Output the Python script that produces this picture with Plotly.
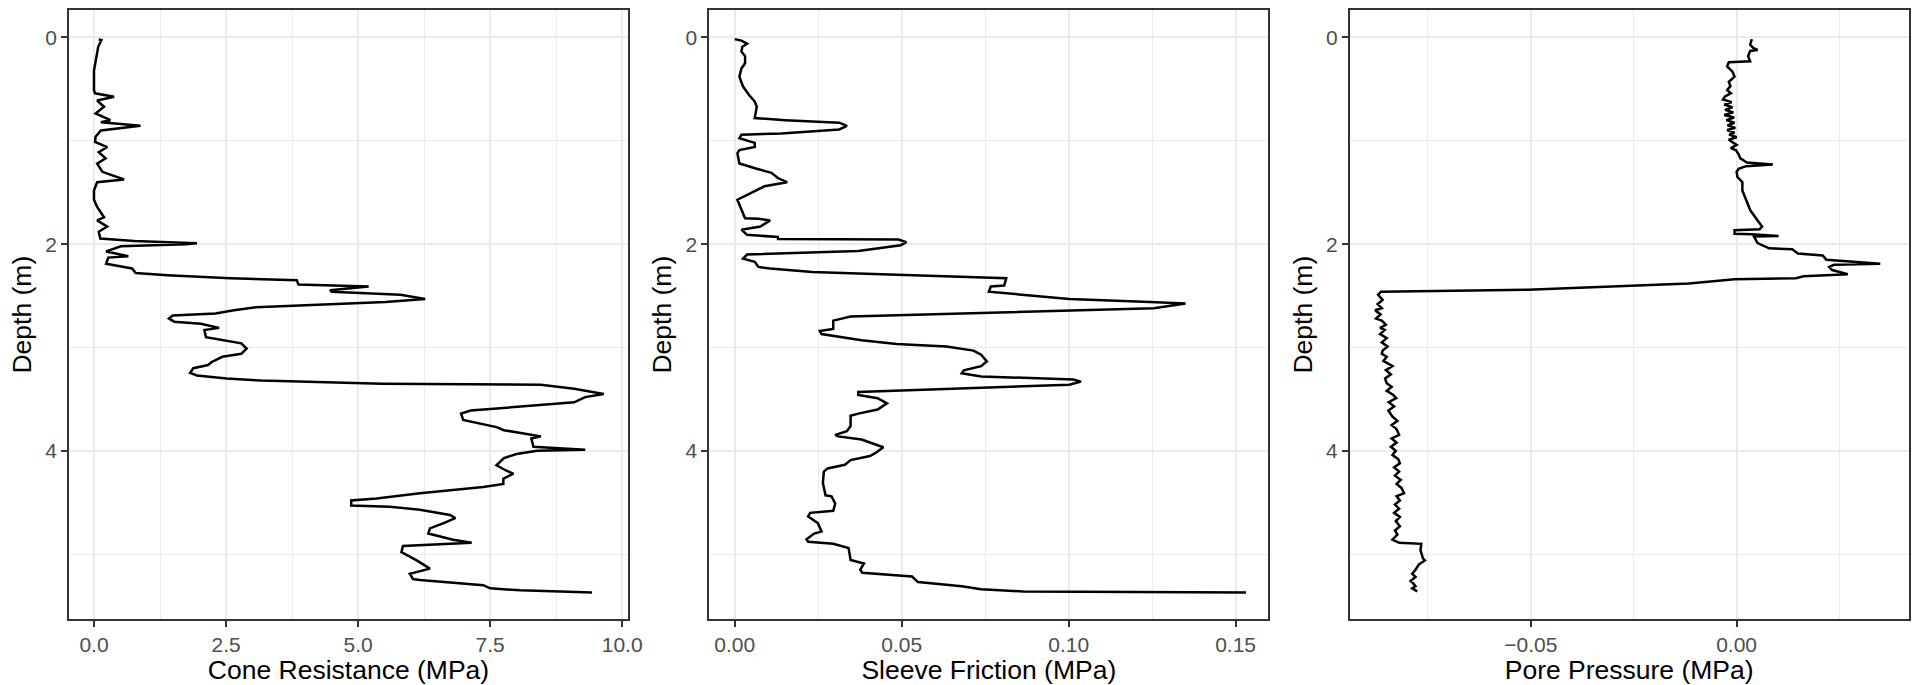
import plotly.graph_objects as go

# cone resistance profile (MPa) vs depth (m)
cone_depth = [
    0.02, 0.026, 0.09, 0.22, 0.32, 0.51, 0.54, 0.574, 0.61, 0.67,
    0.735, 0.80, 0.82, 0.855, 0.90, 0.96, 1.01, 1.06, 1.11, 1.17,
    1.22, 1.30, 1.374, 1.40, 1.48, 1.57, 1.64, 1.74, 1.77, 1.83,
    1.88, 1.945, 1.97, 1.99, 2.00, 2.02, 2.07, 2.116, 2.13, 2.19,
    2.235, 2.28, 2.30, 2.33, 2.35, 2.39, 2.40, 2.41, 2.445, 2.46,
    2.49, 2.53, 2.56, 2.59, 2.61, 2.64, 2.67, 2.69, 2.72, 2.75,
    2.77, 2.81, 2.83, 2.90, 2.93, 2.96, 3.01, 3.06, 3.09, 3.14,
    3.17, 3.20, 3.245, 3.27, 3.30, 3.32, 3.35, 3.36, 3.40, 3.45,
    3.48, 3.53, 3.61, 3.64, 3.70, 3.77, 3.80, 3.85, 3.86, 3.88,
    3.96, 3.99, 4.00, 4.03, 4.07, 4.14, 4.19, 4.22, 4.27, 4.32,
    4.35, 4.41, 4.46, 4.48, 4.53, 4.54, 4.57, 4.62, 4.65, 4.70,
    4.75, 4.80, 4.86, 4.89, 4.90, 4.92, 4.98, 5.06, 5.14, 5.17,
    5.19, 5.24, 5.25, 5.30, 5.33, 5.35, 5.37,
]
cone_qc = [
    0.09, 0.14, 0.08, 0.03, 0.00, 0.00, 0.02, 0.38, 0.06, 0.19,
    0.03, 0.31, 0.13, 0.88, 0.13, 0.03, 0.02, 0.25, 0.09, 0.22,
    0.06, 0.16, 0.57, 0.06, 0.00, 0.00, 0.06, 0.19, 0.06, 0.25,
    0.09, 0.12, 0.76, 1.95, 1.74, 0.51, 0.23, 0.65, 0.27, 0.23,
    0.72, 0.79, 1.39, 2.58, 3.84, 3.87, 4.47, 5.20, 4.47, 4.50,
    5.80, 6.27, 5.52, 4.12, 3.07, 2.65, 2.30, 1.49, 1.42, 1.52,
    2.02, 2.37, 2.09, 2.12, 2.43, 2.79, 2.89, 2.79, 2.43, 2.23,
    2.16, 1.88, 1.82, 1.95, 2.51, 3.17, 5.45, 8.46, 9.09, 9.65,
    9.30, 9.09, 7.13, 6.95, 6.99, 7.62, 7.76, 8.32, 8.46, 8.28,
    8.32, 9.30, 8.39, 8.00, 7.76, 7.62, 7.80, 7.94, 7.75, 7.75,
    7.37, 6.17, 5.35, 4.87, 4.87, 5.60, 6.17, 6.74, 6.84, 6.62,
    6.36, 6.33, 6.80, 7.15, 6.80, 5.85, 5.82, 6.11, 6.36, 6.11,
    5.98, 6.04, 6.17, 7.37, 7.50, 8.07, 9.43,
]

# sleeve friction profile (MPa)
sleeve_depth = [
    0.016, 0.03, 0.06, 0.09, 0.136, 0.18, 0.25, 0.30, 0.38, 0.475,
    0.556, 0.62, 0.67, 0.78, 0.80, 0.824, 0.856, 0.89, 0.93, 0.94,
    0.975, 1.02, 1.06, 1.09, 1.12, 1.22, 1.27, 1.31, 1.36, 1.40,
    1.44, 1.57, 1.75, 1.755, 1.77, 1.83, 1.86, 1.91, 1.93, 1.95,
    1.955, 1.98, 2.01, 2.065, 2.10, 2.14, 2.17, 2.22, 2.236, 2.27,
    2.29, 2.31, 2.33, 2.40, 2.41, 2.46, 2.49, 2.53, 2.56, 2.575,
    2.62, 2.64, 2.67, 2.70, 2.74, 2.82, 2.84, 2.87, 2.93, 2.965,
    2.99, 3.03, 3.07, 3.135, 3.18, 3.22, 3.25, 3.28, 3.31, 3.33,
    3.36, 3.41, 3.43, 3.46, 3.49, 3.54, 3.60, 3.64, 3.66, 3.76,
    3.81, 3.845, 3.86, 3.89, 3.94, 3.965, 4.02, 4.05, 4.09, 4.135,
    4.17, 4.20, 4.31, 4.43, 4.44, 4.51, 4.58, 4.60, 4.635, 4.70,
    4.78, 4.80, 4.855, 4.88, 4.90, 4.94, 5.055, 5.09, 5.15, 5.18,
    5.216, 5.27, 5.31, 5.34, 5.36, 5.37,
]
sleeve_fs = [
    0.0, 0.002, 0.0037, 0.0023, 0.002, 0.0031, 0.0031, 0.002, 0.0014, 0.0025,
    0.0043, 0.006, 0.0066, 0.006, 0.0152, 0.0313, 0.0336, 0.0313, 0.014, 0.002,
    0.0014, 0.006, 0.006, 0.0014, 0.0008, 0.0014, 0.0066, 0.011, 0.0129, 0.0157,
    0.0089, 0.0008, 0.0031, 0.0071, 0.0106, 0.0077, 0.002, 0.0037, 0.0129, 0.013,
    0.049, 0.0514, 0.0497, 0.037, 0.0037, 0.0025, 0.006, 0.0071, 0.0106, 0.0232,
    0.0439, 0.0652, 0.0813, 0.0807, 0.0767, 0.0761, 0.0864, 0.1002, 0.1244, 0.135,
    0.1255, 0.1037, 0.0634, 0.0347, 0.0295, 0.0295, 0.0255, 0.026, 0.038, 0.0485,
    0.0634, 0.0715, 0.0738, 0.0755, 0.0738, 0.0686, 0.068, 0.0738, 0.1014, 0.1037,
    0.1002, 0.0531, 0.037, 0.037, 0.0428, 0.0456, 0.0428, 0.037, 0.0347, 0.0347,
    0.0336, 0.0301, 0.031, 0.038, 0.0422, 0.0445, 0.0422, 0.0405, 0.0347, 0.033,
    0.0278, 0.0267, 0.0264, 0.0272, 0.029, 0.0301, 0.0295, 0.0226, 0.022, 0.0249,
    0.026, 0.0238, 0.0215, 0.022, 0.0295, 0.0341, 0.0347, 0.0387, 0.0376, 0.0382,
    0.0531, 0.0549, 0.068, 0.0738, 0.0864, 0.1531,
]

# pore pressure profile (MPa)
pore_depth = [
    0.016, 0.07, 0.10, 0.12, 0.13, 0.18, 0.23, 0.24, 0.28, 0.33,
    0.38, 0.43, 0.47, 0.51, 0.54, 0.57, 0.60, 0.625, 0.65, 0.675,
    0.70, 0.725, 0.75, 0.775, 0.80, 0.825, 0.85, 0.875, 0.895, 0.92,
    0.94, 0.965, 0.99, 1.04, 1.07, 1.09, 1.13, 1.17, 1.21, 1.23,
    1.245, 1.27, 1.30, 1.35, 1.40, 1.48, 1.57, 1.67, 1.77, 1.83,
    1.855, 1.865, 1.90, 1.905, 1.92, 1.925, 1.99, 2.04, 2.05, 2.09,
    2.11, 2.15, 2.19, 2.20, 2.22, 2.25, 2.29, 2.31, 2.33, 2.34,
    2.38, 2.41, 2.44, 2.46, 2.49, 2.54, 2.58, 2.62, 2.64, 2.68,
    2.72, 2.74, 2.78, 2.81, 2.83, 2.87, 2.91, 2.95, 2.99, 3.03,
    3.06, 3.09, 3.13, 3.18, 3.22, 3.26, 3.30, 3.345, 3.38, 3.42,
    3.46, 3.49, 3.53, 3.57, 3.61, 3.67, 3.71, 3.75, 3.79, 3.845,
    3.88, 3.92, 3.96, 4.00, 4.04, 4.08, 4.12, 4.16, 4.20, 4.24,
    4.28, 4.32, 4.36, 4.41, 4.44, 4.48, 4.52, 4.56, 4.60, 4.64,
    4.68, 4.73, 4.77, 4.81, 4.86, 4.89, 4.90, 4.96, 5.04, 5.06,
    5.10, 5.15, 5.19, 5.22, 5.26, 5.28, 5.31, 5.33, 5.36,
]
pore_u = [
    0.0037, 0.0033, 0.0040, 0.0051, 0.0033, 0.0028, 0.0033, -0.0019, -0.0023, -0.0010,
    -0.0005, -0.0019, -0.0015, -0.0023, -0.0014, -0.0028, -0.0033, -0.0012, -0.0030, -0.0010,
    -0.0028, -0.0008, -0.0030, -0.0006, -0.0025, -0.0005, -0.0022, -0.0003, -0.0023, -0.0005,
    -0.0018, 0.0000, -0.0019, 0.0000, -0.0014, -0.0002, 0.0005, 0.0009, 0.0025, 0.0088,
    0.0023, 0.0005, 0.0000, 0.0002, 0.0014, 0.0014, 0.0023, 0.0033, 0.0051, 0.0062,
    0.0056, -0.0005, -0.0005, 0.0037, 0.0102, 0.0042, 0.0051, 0.0079, 0.0135, 0.0149,
    0.0209, 0.0218, 0.0349, 0.0237, 0.0225, 0.0232, 0.0270, 0.0163, 0.0144, -0.0005,
    -0.0116, -0.0321, -0.0507, -0.0864, -0.0871, -0.0860, -0.0872, -0.0862, -0.0878, -0.0865,
    -0.0876, -0.0862, -0.0852, -0.0866, -0.0855, -0.0866, -0.0850, -0.0862, -0.0848, -0.0860,
    -0.0862, -0.0850, -0.0858, -0.0836, -0.0852, -0.0840, -0.0854, -0.0850, -0.0838, -0.0850,
    -0.0834, -0.0827, -0.0845, -0.0832, -0.0846, -0.0836, -0.0824, -0.0838, -0.0826, -0.0820,
    -0.0838, -0.0826, -0.0840, -0.0828, -0.0836, -0.0822, -0.0818, -0.0832, -0.0820, -0.0830,
    -0.0816, -0.0826, -0.0814, -0.0808, -0.0826, -0.0818, -0.0830, -0.0820, -0.0832, -0.0818,
    -0.0828, -0.0818, -0.0830, -0.0824, -0.0836, -0.0820, -0.0766, -0.0768, -0.0762, -0.0757,
    -0.0772, -0.0780, -0.0788, -0.0780, -0.0792, -0.0786, -0.0780, -0.0788, -0.0776,
]

panels = [
    (cone_qc, cone_depth, "Cone Resistance (MPa)", [-0.473, 10.11], 2.5, 1.25, ".1f"),
    (sleeve_fs, sleeve_depth, "Sleeve Friction (MPa)", [-0.0076, 0.1598], 0.05, 0.025, ".2f"),
    (pore_u, pore_depth, "Pore Pressure (MPa)", [-0.094, 0.0418], 0.05, 0.025, ".2f"),
]

W, H = 1921, 685
FONT = "Liberation Sans, Arial, Helvetica, sans-serif"
GRID = "#EBEBEB"
BORDER = "#333333"

fig = go.Figure()
layout = dict(
    width=W,
    height=H,
    margin=dict(l=0, r=0, t=0, b=0),
    paper_bgcolor="white",
    plot_bgcolor="white",
    showlegend=False,
    font=dict(family=FONT, color="black"),
)

y_dom = [1 - 619.3 / H, 1 - 10 / H]

for i, (xv, yv, label, xr, dt, mdt, fmt) in enumerate(panels):
    n = "" if i == 0 else str(i + 1)
    off = i * W / 3
    fig.add_trace(
        go.Scatter(
            x=xv,
            y=yv,
            mode="lines",
            line=dict(color="black", width=2.5),
            xaxis="x" + n,
            yaxis="y" + n,
            hoverinfo="skip",
        )
    )
    common = dict(
        showline=True,
        mirror=True,
        linecolor=BORDER,
        linewidth=1.7,
        ticks="outside",
        ticklen=6,
        tickwidth=1.7,
        tickcolor=BORDER,
        showgrid=True,
        gridcolor=GRID,
        gridwidth=2,
        zeroline=False,
        automargin=False,
        tickfont=dict(family=FONT, size=21, color="#4D4D4D"),
    )
    layout["xaxis" + n] = dict(
        common,
        domain=[(off + 69) / W, (off + 628) / W],
        anchor="y" + n,
        range=xr,
        tick0=0,
        dtick=dt,
        tickformat=fmt,
        minor=dict(showgrid=True, gridcolor=GRID, gridwidth=1, tick0=0, dtick=mdt, ticks=""),
        title=dict(text=label, font=dict(family=FONT, size=26.5, color="black"), standoff=1),
    )
    layout["yaxis" + n] = dict(
        common,
        domain=y_dom,
        anchor="x" + n,
        range=[5.63, -0.266],
        tick0=0,
        dtick=2,
        minor=dict(showgrid=True, gridcolor=GRID, gridwidth=1, tick0=0, dtick=1, ticks=""),
        title=dict(text="Depth (m)", font=dict(family=FONT, size=26.5, color="black"), standoff=6),
    )

fig.update_layout(**layout)
fig.write_html(
    "out.html",
    config={"displayModeBar": False},
    post_script="document.body.style.margin='0';",
)
